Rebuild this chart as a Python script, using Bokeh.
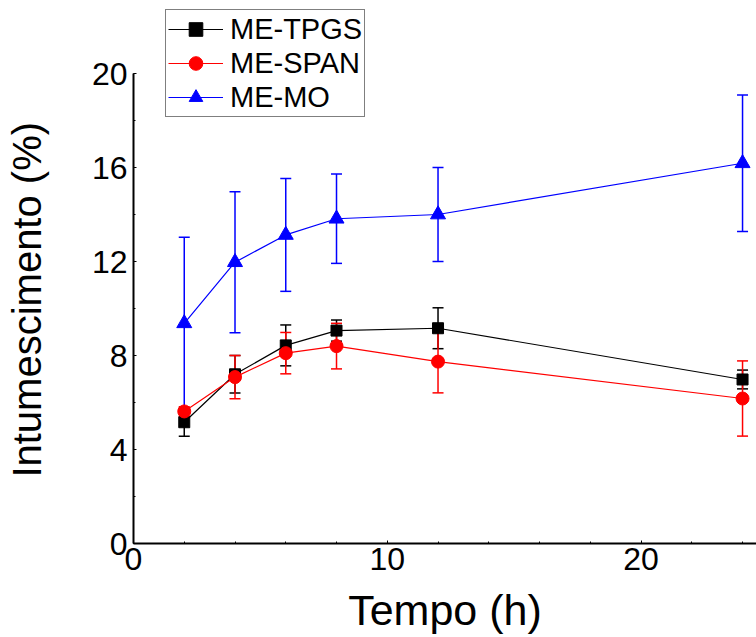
from bokeh.plotting import figure
from bokeh.models import Range1d, ColumnDataSource, Whisker, TeeHead, Legend, LegendItem, FixedTicker
from bokeh.embed import file_html
from bokeh.resources import INLINE

# Data
tempo = [2, 4, 6, 8, 12, 24]
tpgs = [5.16, 7.2, 8.43, 9.06, 9.16, 6.98]
tpgs_err = [0.6, 0.8, 0.87, 0.45, 0.87, 0.4]
span = [5.62, 7.08, 8.10, 8.40, 7.74, 6.17]
span_err = [0.2, 0.92, 0.88, 0.97, 1.33, 1.6]
mo = [9.37, 11.97, 13.13, 13.82, 14.0, 16.18]
mo_err = [3.66, 3.0, 2.4, 1.9, 2.0, 2.9]

series_names = ["ME-TPGS", "ME-SPAN", "ME-MO"]
x_ticks = [0, 10, 20]
y_ticks = [0, 4, 8, 12, 16, 20]

FONT = "Liberation Sans"

# frame spans from canvas top (y=0) to y=543; value 20 sits at y=73
Y_TOP = 20 * 543 / 470

p = figure(width=756, height=637, x_range=Range1d(0, 24.55), y_range=Range1d(0, Y_TOP),
           output_backend="svg", toolbar_location=None,
           min_border_left=133, min_border_right=0, min_border_top=0, min_border_bottom=94)
p.outline_line_color = None
p.xgrid.visible = False
p.ygrid.visible = False
p.background_fill_color = "white"
p.border_fill_color = "white"

for ax in (p.xaxis[0], p.yaxis[0]):
    ax.axis_line_width = 2
    ax.axis_line_color = "black"
    ax.major_tick_in = 3
    ax.major_tick_out = 0
    ax.minor_tick_in = 2
    ax.minor_tick_out = 0
    ax.major_tick_line_color = "black"
    ax.minor_tick_line_color = "black"
    ax.major_label_text_font = FONT
    ax.major_label_text_font_size = "32px"
    ax.major_label_text_color = "black"
    ax.axis_label_text_font = FONT
    ax.axis_label_text_font_style = "normal"
    ax.axis_label_text_color = "black"

p.xaxis[0].axis_label_text_font_size = "43px"
p.yaxis[0].axis_label_text_font_size = "40px"
p.yaxis[0].bounds = (0, 20)
p.xaxis[0].ticker = FixedTicker(ticks=x_ticks, minor_ticks=[2 * i for i in range(13)])
p.yaxis[0].ticker = FixedTicker(ticks=y_ticks, minor_ticks=[2 * i for i in range(11)])
p.xaxis[0].axis_label = "Tempo (h)"
# trailing no-break spaces keep the label centred on the 0-20 part of the axis
p.yaxis[0].axis_label = "Intumescimento (%)" + "\u00a0" * 5
p.xaxis[0].major_label_standoff = 4
p.xaxis[0].axis_label_standoff = 13
p.yaxis[0].major_label_standoff = 6
p.yaxis[0].axis_label_standoff = 40

items = []
specs = [
    (tpgs, tpgs_err, "black", "square", 11),
    (span, span_err, "red", "circle", 13),
    (mo, mo_err, "blue", "triangle", 15),
]
for name, (vals, errs, color, marker, size) in zip(series_names, specs):
    src = ColumnDataSource(dict(x=tempo, y=vals,
                                lo=[v - e for v, e in zip(vals, errs)],
                                hi=[v + e for v, e in zip(vals, errs)]))
    w = Whisker(source=src, base="x", lower="lo", upper="hi", dimension="height",
                line_color=color, line_width=1.5,
                upper_head=TeeHead(size=11, line_color=color, line_width=1.5),
                lower_head=TeeHead(size=11, line_color=color, line_width=1.5))
    p.add_layout(w)
    ln = p.line("x", "y", source=src, line_color=color, line_width=1.2)
    sc = p.scatter("x", "y", source=src, marker=marker, size=size,
                   fill_color=color, line_color=color)
    items.append(LegendItem(label=name, renderers=[ln, sc]))

leg = Legend(items=items, location=(32, 426), margin=0, padding=2, spacing=0,
             glyph_width=55, glyph_height=34, label_height=34, label_standoff=7,
             label_text_font=FONT, label_text_font_size="29px", label_text_color="black",
             border_line_color="black", border_line_width=1, background_fill_color="white",
             background_fill_alpha=1.0)
p.add_layout(leg, "center")

open("out.html", "w").write(file_html(p, INLINE))
